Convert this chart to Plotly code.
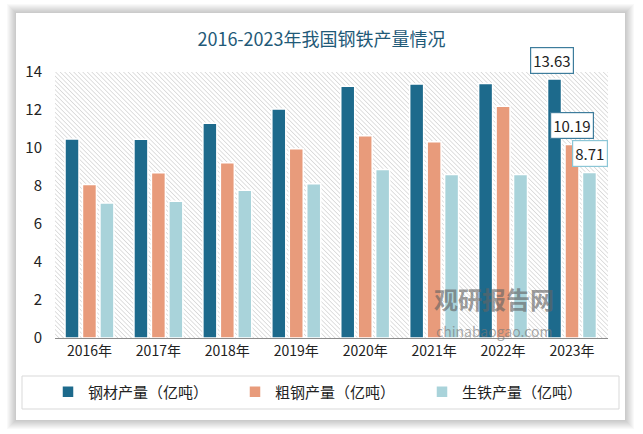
import base64
import plotly.graph_objects as go

years = ["2016年", "2017年", "2018年", "2019年", "2020年", "2021年", "2022年", "2023年"]
steel_products = [10.48, 10.46, 11.30, 12.05, 13.25, 13.37, 13.40, 13.63]
crude_steel = [8.08, 8.70, 9.23, 9.96, 10.65, 10.33, 12.20, 10.19]
pig_iron = [7.10, 7.20, 7.77, 8.12, 8.87, 8.60, 8.60, 8.71]
series_names = ["钢材产量（亿吨）", "粗钢产量（亿吨）", "生铁产量（亿吨）"]
series_colors = ["#1d6a8c", "#e89b7b", "#a9d3da"]
label_borders = ["#3d7c9c", "#3d7c9c", "#8cc6d6"]
title_text = "2016-2023年我国钢铁产量情况"

FONT = "Noto Sans CJK SC, Noto Sans, sans-serif"
W, H = 643, 434
ML, MR, MT, MB = 55, 35, 72, 96
PW, PH = W - ML - MR, H - MT - MB

def px_x(px):
    return (px - ML) / PW

def px_y(py):
    return (H - MB - py) / PH

fig = go.Figure()
for name, vals, col in zip(series_names, [steel_products, crude_steel, pig_iron], series_colors):
    fig.add_trace(go.Bar(
        x=years, y=vals, name=name,
        marker=dict(color=col, line=dict(color="white", width=1.5)),
    ))

# value labels for the last year
all_series = [steel_products, crude_steel, pig_iron]
shifts = [-20, 0, 18]
for vals, bc, xs in zip(all_series, label_borders, shifts):
    fig.add_annotation(
        x=years[-1], y=vals[-1], text=f"{vals[-1]:.2f}", showarrow=False,
        xshift=xs, yshift=19, bgcolor="white", bordercolor=bc, borderwidth=1.2,
        borderpad=2, font=dict(family=FONT, size=15, color="#222"),
    )

# card shadow + card
shapes = []
cx0, cx1, cy0, cy1 = 16, 625, 13, 420
for i in range(9, 0, -1):
    shapes.append(dict(
        type="rect", xref="paper", yref="paper", layer="below",
        x0=px_x(cx0 - i), x1=px_x(cx1 + i), y0=px_y(cy1 + i), y1=px_y(cy0 - i),
        line=dict(width=0), fillcolor="rgba(0,0,0,0.022)",
    ))
shapes.append(dict(
    type="rect", xref="paper", yref="paper", layer="below",
    x0=px_x(cx0), x1=px_x(cx1), y0=px_y(cy1), y1=px_y(cy0),
    line=dict(width=0), fillcolor="white",
))
# legend box
shapes.append(dict(
    type="rect", xref="paper", yref="paper", layer="below",
    x0=px_x(22), x1=px_x(619), y0=px_y(409), y1=px_y(376),
    line=dict(color="#d9d9d9", width=1), fillcolor="white",
))

# hatched plot background
svg = (
    f"<svg xmlns='http://www.w3.org/2000/svg' width='{PW}' height='{PH}'>"
    "<defs><pattern id='p' width='3.2' height='3.2' patternUnits='userSpaceOnUse' "
    "patternTransform='rotate(-45)'><rect width='3.2' height='3.2' fill='#ffffff'/>"
    "<line x1='0' y1='0' x2='0' y2='3.2' stroke='#c6c6c6' stroke-width='1.1'/></pattern></defs>"
    "<rect width='100%' height='100%' fill='url(#p)'/></svg>"
)
src = "data:image/svg+xml;base64," + base64.b64encode(svg.encode()).decode()

fig.update_layout(
    width=W, height=H,
    margin=dict(l=ML, r=MR, t=MT, b=MB),
    paper_bgcolor="white", plot_bgcolor="rgba(0,0,0,0)",
    barmode="group", bargap=0.24, bargroupgap=0.2,
    shapes=shapes,
    images=[dict(source=src, xref="x domain", yref="y domain", x=0, y=1,
                 sizex=1, sizey=1, sizing="stretch", layer="below",
                 xanchor="left", yanchor="top")],
    title=dict(text=title_text, x=0.5, xref="container", xanchor="center",
               y=1 - 40 / H, yref="container", yanchor="middle",
               font=dict(family=FONT, size=18, color="#1f5a78")),
    font=dict(family=FONT, size=14, color="#222"),
    showlegend=True,
    legend=dict(orientation="h", x=px_x(48), xanchor="left", y=px_y(392), yanchor="middle",
                entrywidth=142, entrywidthmode="pixels", bgcolor="rgba(0,0,0,0)",
                font=dict(family=FONT, size=15, color="#222"), traceorder="normal"),
    xaxis=dict(showgrid=False, showline=True, linecolor="#8c8c8c", linewidth=1.2,
               ticks="", tickfont=dict(family=FONT, size=14, color="#222")),
    yaxis=dict(range=[0, 14], dtick=2, showgrid=False, zeroline=False, showline=False,
               ticks="", ticklabelstandoff=12,
               tickfont=dict(family=FONT, size=15, color="#222")),
)

# watermark
fig.add_annotation(x=px_x(556), y=px_y(318), xref="paper", yref="paper", text="<b>观研报告网</b>",
                   showarrow=False, font=dict(family=FONT, size=24, color="rgba(100,100,100,0.65)"))
fig.add_annotation(x=px_x(555), y=px_y(343), xref="paper", yref="paper", text="chinabaogao.com",
                   showarrow=False, font=dict(family=FONT, size=14, color="rgba(120,120,120,0.65)"))

fig.write_html("out.html")
